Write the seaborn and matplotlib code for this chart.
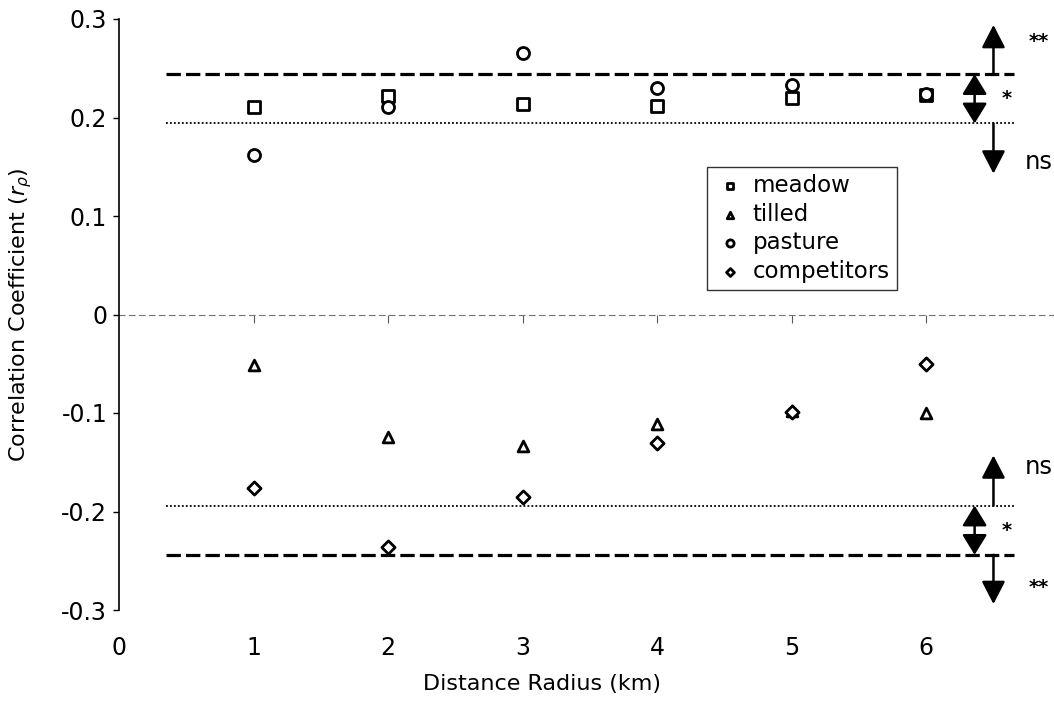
import numpy as np
import pandas as pd
from matplotlib import pyplot as plt
import seaborn as sns

sns.set_style('white')
plt.rcParams['font.family'] = ['DejaVu Sans']
plt.rcParams['axes.unicode_minus'] = False
plt.rcParams['text.color'] = 'black'
plt.rcParams['axes.labelcolor'] = 'black'
plt.rcParams['xtick.color'] = 'black'
plt.rcParams['ytick.color'] = 'black'

# ==================== 数据 ====================
radius = [1, 2, 3, 4, 5, 6]
meadow = [0.211, 0.222, 0.214, 0.212, 0.220, 0.223]
tilled = [-0.051, -0.124, -0.133, -0.111, -0.098, -0.100]
pasture = [0.162, 0.211, 0.265, 0.230, 0.233, 0.224]
competitors = [-0.176, -0.236, -0.185, -0.130, -0.099, -0.050]

# 显著性临界值 (p<0.05, p<0.01)
crit_05 = 0.194
crit_01 = 0.244

series = {'meadow': meadow, 'tilled': tilled, 'pasture': pasture, 'competitors': competitors}
markers = {'meadow': 's', 'tilled': '^', 'pasture': 'o', 'competitors': 'D'}
sizes = {'meadow': 70, 'tilled': 60, 'pasture': 75, 'competitors': 45}

df = pd.concat([pd.DataFrame({'radius': radius, 'r': v, 'habitat': k}) for k, v in series.items()])

# ==================== 绘图 ====================
fig = plt.figure(figsize=(10.54, 7.04), dpi=100)
ax = fig.add_axes([119 / 1054, 1 - 610 / 704, 935 / 1054, 591 / 704])

# 临界线
for c in (crit_05, -crit_05):
    ax.hlines(c, 0.35, 6.65, colors='black', lw=1.3, linestyles=(0, (1, 1.2)))
for c in (crit_01, -crit_01):
    ax.hlines(c, 0.35, 6.65, colors='black', lw=2.3, linestyles=(0, (4.5, 1.6)))

for name in series:
    sub = df[df['habitat'] == name]
    sns.scatterplot(data=sub, x='radius', y='r', marker=markers[name], s=sizes[name],
                    color='white', edgecolor='black', linewidth=2, label=name, ax=ax, zorder=3)

ax.set_xlim(0, 6.95)
ax.set_ylim(-0.3, 0.3)
ax.set_xticks(range(0, 7))
yt = np.arange(-0.3, 0.31, 0.1)
ax.set_yticks(yt)
ax.set_yticklabels(['0' if abs(t) < 1e-9 else f'{t:.1f}' for t in yt])

for s in ['top', 'right', 'bottom']:
    ax.spines[s].set_visible(False)
ax.spines['left'].set_color('black')
ax.spines['left'].set_linewidth(1.2)
ax.tick_params(axis='y', direction='out', length=4.5, width=1, left=True, labelsize=17, pad=4)
ax.tick_params(axis='x', length=0, labelsize=17, pad=19)

# x轴在 y=0 处穿过
sec = ax.secondary_xaxis(0.5)
sec.set_alignment('bottom')
sec.set_xticks(range(1, 7))
sec.tick_params(axis='x', direction='out', length=6, width=0.8, colors='0.35',
                labelbottom=False, labeltop=False)
sec.spines['bottom'].set_color('0.45')
sec.spines['bottom'].set_linewidth(0.8)
sec.spines['bottom'].set_linestyle((0, (5, 4)))

ax.set_xlabel('Distance Radius (km)', fontsize=16)
ax.xaxis.set_label_coords(0.452, -0.108)
ax.set_ylabel(r'Correlation Coefficient ($r_\rho$)', fontsize=16)
ax.yaxis.set_label_coords(-0.091, 0.5)

# 图例
leg = ax.legend(loc='upper left', bbox_to_anchor=((707 - 119) / 935, (610 - 167) / 591),
                fontsize=16.5, frameon=True, fancybox=False, edgecolor='black',
                markerscale=0.6, handletextpad=0.3, handlelength=1.4,
                labelspacing=0.25, borderpad=0.3, borderaxespad=0)
leg.get_frame().set_linewidth(1.0)

# 显著性箭头
big = dict(arrowstyle='-|>,head_width=0.36,head_length=0.7', color='black', lw=1.8,
           mutation_scale=20, shrinkA=0, shrinkB=0)
dbl = dict(arrowstyle='<|-|>,head_width=0.38,head_length=0.62', color='black', lw=1.8,
           mutation_scale=20, shrinkA=0, shrinkB=0)
for sgn in (1, -1):
    outer = 0.294 * sgn
    inner = 0.143 * sgn
    ax.annotate('', xy=(6.5, outer), xytext=(6.5, crit_01 * sgn), arrowprops=big, annotation_clip=False)
    ax.annotate('', xy=(6.36, crit_05 * sgn), xytext=(6.36, crit_01 * sgn), arrowprops=dbl, annotation_clip=False)
    ax.annotate('', xy=(6.5, inner), xytext=(6.5, crit_05 * sgn), arrowprops=big, annotation_clip=False)
    ax.text(6.76, 0.277 * sgn, '**', fontsize=14, fontweight='bold', ha='left', va='center')
    ax.text(6.56, 0.219 * sgn, '*', fontsize=14, fontweight='bold', ha='left', va='center')
    ax.text(6.73, 0.155 * sgn, 'ns', fontsize=17.5, ha='left', va='center')

plt.savefig('out.png', dpi=100)
